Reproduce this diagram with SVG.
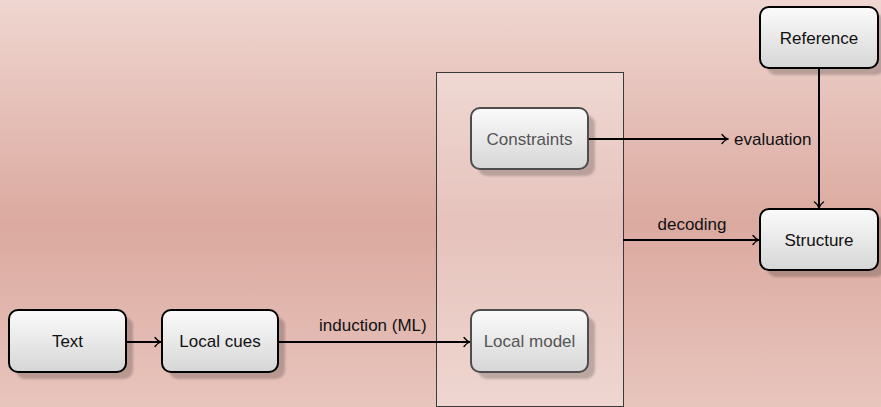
<svg xmlns="http://www.w3.org/2000/svg" width="881" height="407" viewBox="0 0 881 407">
  <defs>
    <linearGradient id="bg" x1="0" y1="0" x2="0" y2="1">
      <stop offset="0" stop-color="#efd6d0"/>
      <stop offset="0.55" stop-color="#dba99f"/>
      <stop offset="1" stop-color="#e8c5bd"/>
    </linearGradient>
    <linearGradient id="nodeFill" x1="0" y1="0" x2="0" y2="1">
      <stop offset="0" stop-color="#fbfbfb"/>
      <stop offset="1" stop-color="#d6d6d6"/>
    </linearGradient>
    <filter id="soft" x="-10%" y="-10%" width="120%" height="120%">
      <feGaussianBlur stdDeviation="1"/>
    </filter>
    <marker id="arrow" viewBox="0 0 10 12" refX="9" refY="6" markerWidth="10" markerHeight="12" markerUnits="userSpaceOnUse" orient="auto">
      <path d="M3,1.5 Q5.5,5 9,6 Q5.5,7 3,10.5" fill="none" stroke="#000" stroke-width="1.3" stroke-linecap="round"/>
    </marker>
    <style>
      .label { font-family: "Liberation Sans", Arial, sans-serif; font-size: 17px; fill: #111; }
      .node rect.box { fill: url(#nodeFill); stroke: #000; stroke-width: 2; }
      .node rect.shadow { fill: #000; opacity: 0.2; filter: url(#soft); }
      .node text { font-family: "Liberation Sans", Arial, sans-serif; font-size: 17px; fill: #111; text-anchor: middle; }
      .faded rect.box { stroke: #4d4d4d; }
      .faded text { fill: #555; }
      .conn line { stroke: #000; stroke-width: 2; marker-end: url(#arrow); }
    </style>
  </defs>

  <!-- background -->
  <rect x="0" y="0" width="881" height="407" fill="url(#bg)"/>

  <!-- model container -->
  <g id="model-box">
    <rect x="436.5" y="72.5" width="187" height="334" fill="#ffffff" fill-opacity="0.3" stroke="#3a3a3a" stroke-width="1"/>
  </g>

  <!-- connectors -->
  <g id="connectors" class="conn">
    <line x1="126" y1="342" x2="161" y2="342"/>
    <line x1="278" y1="342" x2="470" y2="342"/>
    <line x1="588" y1="139" x2="728" y2="139"/>
    <line x1="623" y1="240" x2="759" y2="240"/>
    <line x1="819" y1="68" x2="819" y2="208"/>
  </g>

  <!-- connector labels -->
  <g id="connector-labels">
    <text class="label" x="319" y="331">induction (ML)</text>
    <text class="label" x="734" y="145">evaluation</text>
    <text class="label" x="692" y="230" text-anchor="middle">decoding</text>
  </g>

  <!-- nodes -->
  <g id="text" class="node">
    <rect class="shadow" x="16" y="317" width="117" height="62" rx="9"/>
    <rect class="box" x="9" y="310" width="117" height="62" rx="9"/>
    <text x="67.5" y="347">Text</text>
  </g>
  <g id="local-cues" class="node">
    <rect class="shadow" x="169" y="317" width="116" height="62" rx="9"/>
    <rect class="box" x="162" y="310" width="116" height="62" rx="9"/>
    <text x="220" y="347">Local cues</text>
  </g>
  <g id="constraints" class="node faded">
    <rect class="shadow" x="478" y="115" width="117" height="61" rx="9"/>
    <rect class="box" x="471" y="108" width="117" height="61" rx="9"/>
    <text x="529.5" y="145">Constraints</text>
  </g>
  <g id="local-model" class="node faded">
    <rect class="shadow" x="478" y="317" width="117" height="62" rx="9"/>
    <rect class="box" x="471" y="310" width="117" height="62" rx="9"/>
    <text x="529.5" y="347">Local model</text>
  </g>
  <g id="reference" class="node">
    <rect class="shadow" x="767" y="14" width="118" height="61" rx="9"/>
    <rect class="box" x="760" y="7" width="118" height="61" rx="9"/>
    <text x="819" y="44">Reference</text>
  </g>
  <g id="structure" class="node">
    <rect class="shadow" x="767" y="216" width="118" height="61" rx="9"/>
    <rect class="box" x="760" y="209" width="118" height="61" rx="9"/>
    <text x="819" y="246">Structure</text>
  </g>
</svg>
